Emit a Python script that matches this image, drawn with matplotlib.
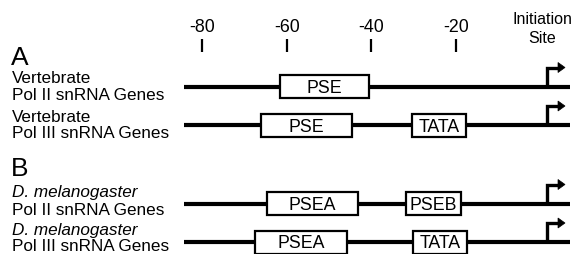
import matplotlib
matplotlib.use("Agg")
import matplotlib.pyplot as plt
from matplotlib.patches import Rectangle, Polygon

plt.rcParams['font.family'] = ['Liberation Sans', 'DejaVu Sans']

# ---- data ----
tick_positions = [-80, -60, -40, -20]
tick_labels = ['-80', '-60', '-40', '-20']
initiation_pos = 1.5
line_start = -84.2
line_end = 6.9

section_letters = ['A', 'B']
row_species = ['Vertebrate', 'Vertebrate', 'D. melanogaster', 'D. melanogaster']
row_species_italic = [False, False, True, True]
row_genes = ['Pol II snRNA Genes', 'Pol III snRNA Genes', 'Pol II snRNA Genes', 'Pol III snRNA Genes']

row1_names = ['PSE']
row1_starts = [-61.6]
row1_ends = [-40.5]
row2_names = ['PSE', 'TATA']
row2_starts = [-66.1, -30.4]
row2_ends = [-44.6, -17.6]
row3_names = ['PSEA', 'PSEB']
row3_starts = [-64.6, -31.8]
row3_ends = [-43.1, -18.8]
row4_names = ['PSEA', 'TATA']
row4_starts = [-67.5, -30.2]
row4_ends = [-45.8, -17.4]

rows = [(row1_names, row1_starts, row1_ends),
        (row2_names, row2_starts, row2_ends),
        (row3_names, row3_starts, row3_ends),
        (row4_names, row4_starts, row4_ends)]

# ---- layout (pixel y coordinates) ----
W, H = 577, 254
px_per_unit = (456 - 202) / 60.0
xmin = -80 - 202 / px_per_unit
xmax = -80 + (W - 202) / px_per_unit

row_y = [86.5, 125, 203.5, 242]
species_base = [83, 121.5, 197.5, 234.5]
genes_base = [100, 138, 215, 251]
box_h = 23
arrow_h = 19

fig = plt.figure(figsize=(W / 100, H / 100), dpi=100)
ax = fig.add_axes([0, 0, 1, 1])
ax.set_xlim(xmin, xmax)
ax.set_ylim(H, 0)
ax.axis('off')

fs = 12.3
# ticks
for p, lab in zip(tick_positions, tick_labels):
    ax.text(p, 32, lab, ha='center', va='baseline', fontsize=12.8)
    ax.plot([p, p], [39, 52], color='black', lw=1.6, solid_capstyle='butt')
ix = xmin + 542 / px_per_unit
ax.text(ix, 24, 'Initiation', ha='center', va='baseline', fontsize=11.5)
ax.text(ix, 43, 'Site', ha='center', va='baseline', fontsize=11.5)

# section letters
lx = xmin + 11 / px_per_unit
ax.text(lx, 65, section_letters[0], ha='left', va='baseline', fontsize=19)
ax.text(lx, 176.5, section_letters[1], ha='left', va='baseline', fontsize=19)

tx = xmin + 12 / px_per_unit
for i, (y, (names, starts, ends)) in enumerate(zip(row_y, rows)):
    # labels
    ax.text(tx, species_base[i], row_species[i], ha='left', va='baseline', fontsize=fs,
            style='italic' if row_species_italic[i] else 'normal')
    ax.text(tx, genes_base[i], row_genes[i], ha='left', va='baseline', fontsize=fs)
    # main line
    ax.plot([line_start, line_end], [y, y], color='black', lw=3.0, solid_capstyle='butt', zorder=1)
    # boxes
    for n, s, e in zip(names, starts, ends):
        ax.add_patch(Rectangle((s, y - box_h / 2), e - s, box_h, facecolor='white',
                               edgecolor='black', lw=1.6, zorder=2))
        ax.text((s + e) / 2, y + 6.5, n, ha='center', va='baseline', fontsize=12.8, zorder=3)
    # initiation arrow
    top = y - arrow_h
    ax.plot([initiation_pos, initiation_pos, initiation_pos + 12 / px_per_unit],
            [y, top, top], color='black', lw=2.4, solid_joinstyle='miter', solid_capstyle='butt', zorder=3)
    hx = initiation_pos + 11 / px_per_unit
    ax.add_patch(Polygon([[hx, top - 5], [hx, top + 5], [hx + 7 / px_per_unit, top]],
                         closed=True, facecolor='black', edgecolor='black', lw=0.5, zorder=3))

fig.savefig('out.png', dpi=100)
